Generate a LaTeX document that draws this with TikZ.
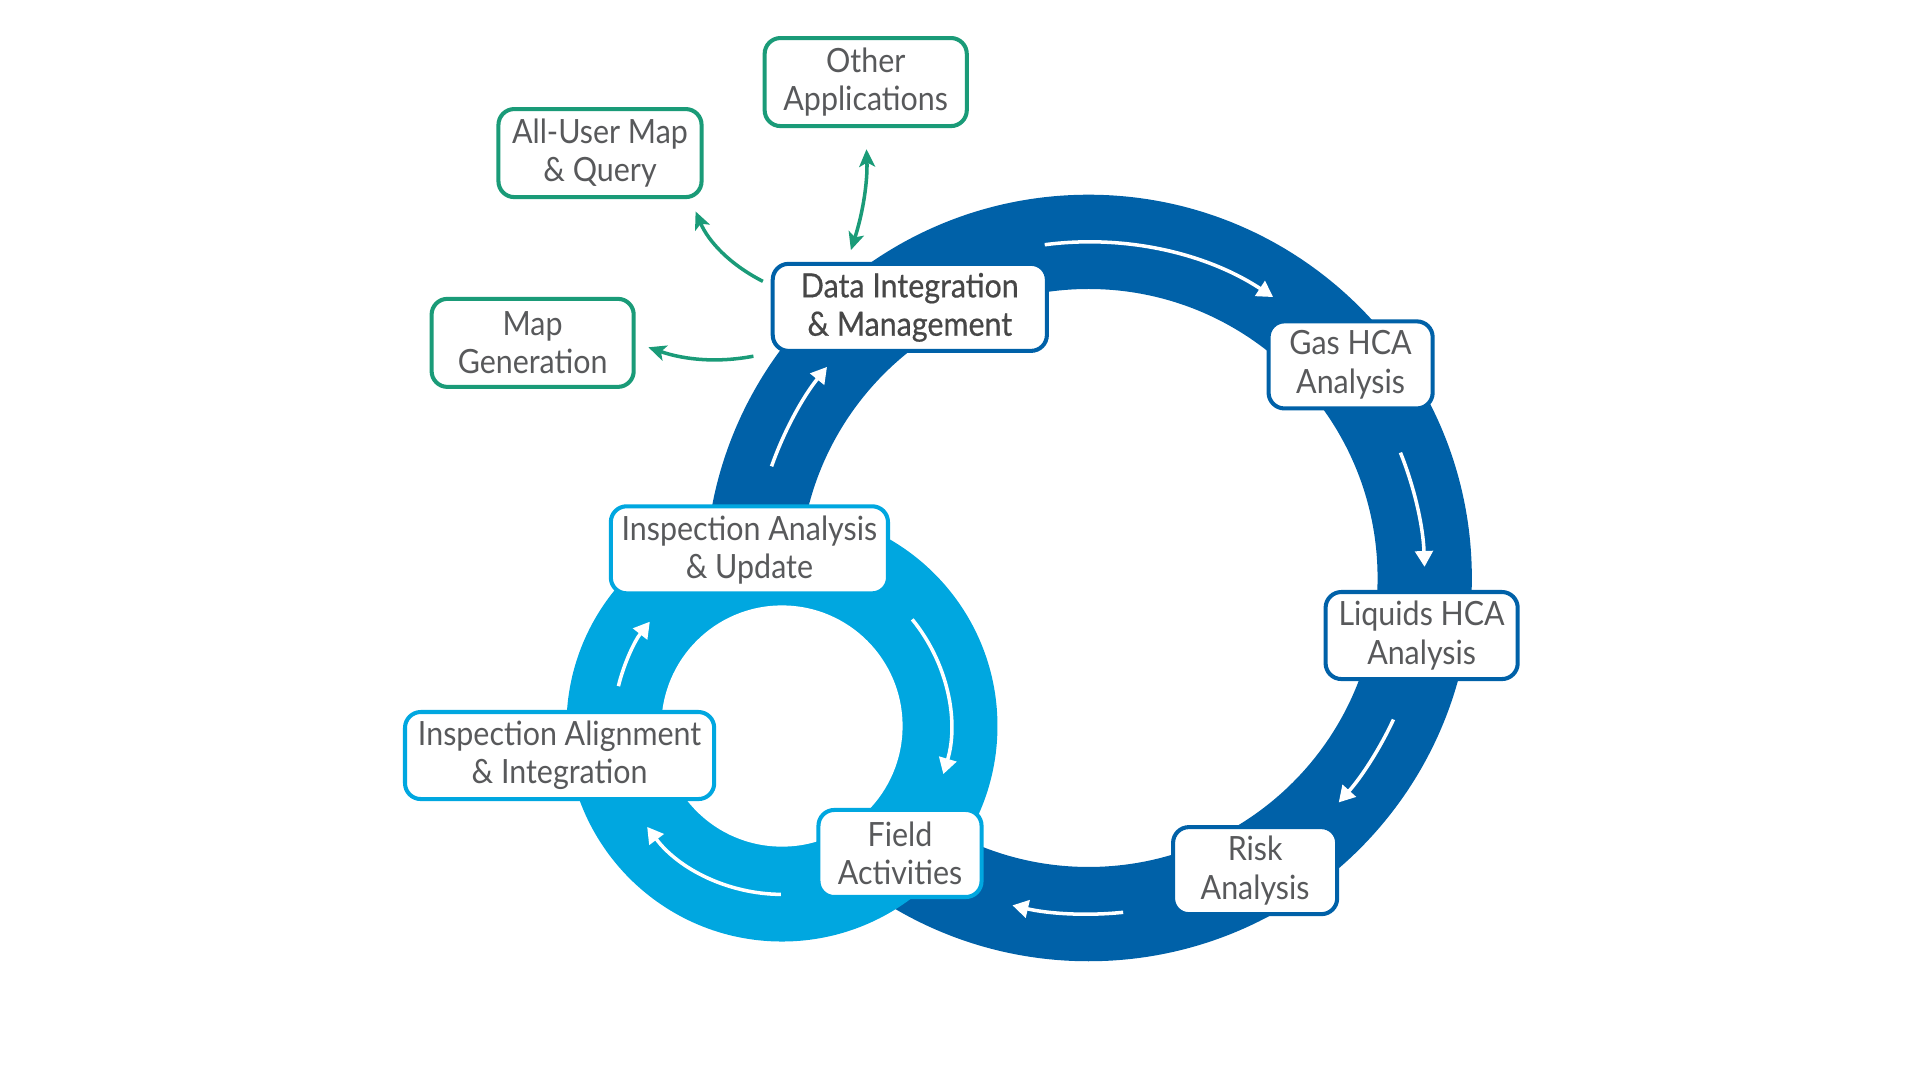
\documentclass[tikz,border=0pt]{standalone}
\usepackage{fontspec}
\setmainfont{Lato}[FakeStretch=0.91]
\newfontfamily\dimfont{Lato}[FakeStretch=0.91, FakeBold=0.5]
\usepackage{tikz}
\usetikzlibrary{arrows.meta}

\definecolor{ringdark}{HTML}{0061A8}
\definecolor{ringlight}{HTML}{00A7E0}
\definecolor{appgreen}{HTML}{1A9B78}
\definecolor{txtgray}{HTML}{58595B}

\begin{document}
\begin{tikzpicture}[x=0.012245cm, y=0.012245cm,
    stepbox/.style={draw, line width=1.15pt, fill=white, rounded corners=4.5pt,
                    align=center, text=txtgray, inner sep=0pt,
                    font=\fontsize{9.5pt}{10.9pt}\selectfont, minimum height=0.87cm},
    darkbox/.style={stepbox, draw=ringdark},
    lightbox/.style={stepbox, draw=ringlight},
    appbox/.style={stepbox, draw=appgreen, minimum height=0.88cm},
    ringarrow/.style={white, line width=1pt, -{Triangle[length=4.5pt, width=5pt]}},
    apparrow/.style={appgreen, line width=1pt, -{Stealth[length=5pt, width=4.5pt, inset=1.2pt]}}
]
    \useasboundingbox (0,0) rectangle (1568,-882);

    % ========== rings ==========
    \coordinate (bigc)   at (889,-472);
    \coordinate (smallc) at (638.6,-592.9);
    \fill[ringdark, even odd rule] (bigc) circle[radius=313] circle[radius=236];
    \fill[ringlight] (smallc) circle[radius=176];
    \fill[white]     (smallc) circle[radius=98.5];

    % --- flow arrows in the big ring ---
    \draw[ringarrow] (bigc) ++(97.5:274.5)  arc[start angle=97.5,  end angle=56.7,   radius=274.5];
    \draw[ringarrow] (bigc) ++(21.9:274.5)  arc[start angle=21.9,  end angle=1.9,    radius=274.5];
    \draw[ringarrow] (bigc) ++(-24.9:274.5) arc[start angle=-24.9, end angle=-41.9,  radius=274.5];
    \draw[ringarrow] (bigc) ++(-84.1:274.5) arc[start angle=-84.1, end angle=-103.1, radius=274.5];
    \draw[ringarrow] (bigc) ++(160.6:274.5) arc[start angle=160.6, end angle=141.1,  radius=274.5];

    % --- flow arrows in the small ring ---
    \draw[ringarrow] (smallc) ++(39.3:137.5)  arc[start angle=39.3,  end angle=-16.6,  radius=137.5];
    \draw[ringarrow] (smallc) ++(-90.4:137.5) arc[start angle=-90.4, end angle=-143.2, radius=137.5];
    \draw[ringarrow] (smallc) ++(166.3:137.5) arc[start angle=166.3, end angle=141.7,  radius=137.5];

    % ========== main cycle ==========
    \node[darkbox, minimum width=2.74cm, text=black!72] (dim) at (743,-251)
        {\dimfont Data Integration\\ \dimfont\& Management};
    \node[darkbox, minimum width=1.64cm] (gas)  at (1103,-298) {Gas HCA\\ Analysis};
    \node[darkbox, minimum width=1.92cm] (liq)  at (1161,-519) {Liquids HCA\\ Analysis};
    \node[darkbox, minimum width=1.64cm] (risk) at (1025,-711) {Risk\\ Analysis};

    % ========== inspection cycle ==========
    \node[lightbox, minimum width=1.63cm] (fld) at (735,-697) {Field\\ Activities};
    \node[lightbox, minimum width=2.77cm] (iau) at (612,-449) {Inspection Analysis\\ \& Update};
    \node[lightbox, minimum width=3.09cm] (iai) at (457,-617) {Inspection Alignment\\ \& Integration};

    % ========== applications ==========
    \node[appbox, minimum width=2.02cm] (oth)  at (707,-67)  {Other\\ Applications};
    \node[appbox, minimum width=2.03cm] (aum)  at (490,-125) {All-User Map\\ \& Query};
    \node[appbox, minimum width=2.02cm] (mgen) at (435,-280) {Map\\ Generation};

    % --- links to applications ---
    \draw[apparrow, {Stealth[length=5pt, width=4.5pt, inset=1.2pt]}-{Stealth[length=5pt, width=4.5pt, inset=1.2pt]},
          shorten <=6pt, shorten >=3.5pt]
        (oth.south) to[bend left=10] (dim.144);
    \draw[apparrow, shorten <=2.5pt, shorten >=3.8pt]
        (dim.171) to[bend left=20] (aum.-27);
    \draw[apparrow, shorten <=5pt, shorten >=3.8pt]
        (dim.south west) to[bend left=15] (mgen.east);
\end{tikzpicture}
\end{document}
